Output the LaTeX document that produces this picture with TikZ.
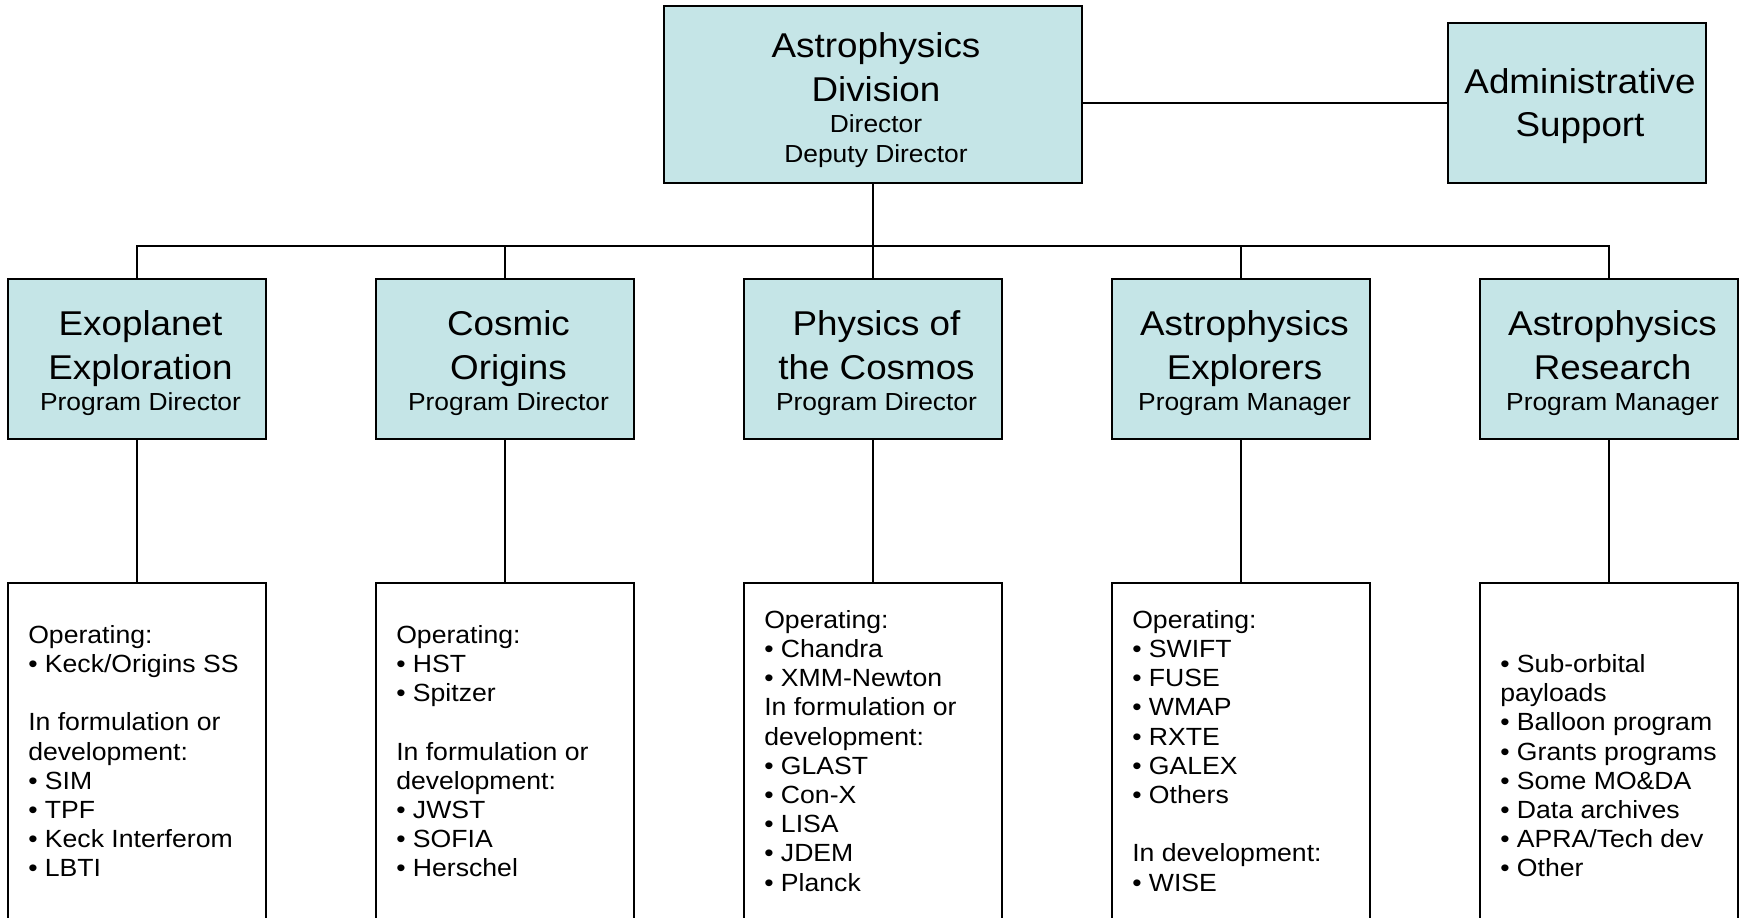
\documentclass[tikz,border=0pt]{standalone}
\usepackage{fontspec}
\setmainfont[FakeStretch=1.07]{Liberation Sans}
\newcommand\fnttitle{\fontsize{25.8pt}{32.5pt}\selectfont}
\newcommand\fntsub{\fontsize{18.5pt}{22pt}\selectfont}
\newcommand\fntbody{\fontsize{18.65pt}{21.9pt}\selectfont}
\definecolor{boxfill}{RGB}{197,229,231}
\tikzset{
  hbox/.style={draw=black, line width=2.2pt, fill=boxfill, inner sep=0pt, outer sep=0pt, rectangle},
  wbox/.style={draw=black, line width=2.2pt, fill=white, inner sep=0pt, outer sep=0pt, rectangle,
    minimum width=193.5pt, minimum height=253.5pt},
  midbox/.style={hbox, minimum width=193.5pt, minimum height=120pt},
  conn/.style={draw=black, line width=1.8pt, line join=miter},
  ttl/.style={font=\fnttitle, align=center, inner sep=0pt, anchor=north},
  body/.style={font=\fntbody, align=left, inner sep=0pt, anchor=north west},
}
\begin{document}
\begin{tikzpicture}[x=0.75pt, y=-0.75pt]
\clip (0,0) rectangle (1744,917);
\fill[white] (0,0) rectangle (1744,917);

% top level
\node[hbox, minimum width=313.5pt, minimum height=132.75pt] (top) at (873,94.5) {};
\node[hbox, minimum width=193.5pt, minimum height=120pt] (admin) at (1577,103) {};
\node[ttl] (toptxt) at (876,32.5) {Astrophysics\\Division\\[-8.7pt]\fntsub Director\\[-10.5pt]\fntsub Deputy Director};
\node[ttl] (admintxt) at (1580,68) {Administrative\\Support};

% program boxes
\node[midbox] (m1) at (137,359) {};
\node[midbox] (m2) at (505,359) {};
\node[midbox] (m3) at (873,359) {};
\node[midbox] (m4) at (1241,359) {};
\node[midbox] (m5) at (1609,359) {};
\node[ttl] (m1t) at (140.5,310.5) {Exoplanet\\Exploration\\[-8.7pt]\fntsub Program Director};
\node[ttl] (m2t) at (508.5,310.5) {Cosmic\\Origins\\[-8.7pt]\fntsub Program Director};
\node[ttl] (m3t) at (876.5,310.5) {Physics of\\the Cosmos\\[-8.7pt]\fntsub Program Director};
\node[ttl] (m4t) at (1244.5,310.5) {Astrophysics\\Explorers\\[-8.7pt]\fntsub Program Manager};
\node[ttl] (m5t) at (1612.5,310.5) {Astrophysics\\Research\\[-8.7pt]\fntsub Program Manager};

% detail boxes
\node[wbox] (b1) at (137,752) {};
\node[wbox] (b2) at (505,752) {};
\node[wbox] (b3) at (873,752) {};
\node[wbox] (b4) at (1241,752) {};
\node[wbox] (b5) at (1609,752) {};
\node[body] (b1t) at (28,625) {Operating:\\• Keck/Origins SS\\[21.9pt]In formulation or\\development:\\• SIM\\• TPF\\• Keck Interferom\\• LBTI};
\node[body] (b2t) at (396,625) {Operating:\\• HST\\• Spitzer\\[21.9pt]In formulation or\\development:\\• JWST\\• SOFIA\\• Herschel};
\node[body] (b3t) at (764,610) {Operating:\\• Chandra\\• XMM-Newton\\In formulation or\\development:\\• GLAST\\• Con-X\\• LISA\\• JDEM\\• Planck};
\node[body] (b4t) at (1132,610) {Operating:\\• SWIFT\\• FUSE\\• WMAP\\• RXTE\\• GALEX\\• Others\\[21.9pt]In development:\\• WISE};
\node[body] (b5t) at (1500,654.2) {• Sub-orbital\\payloads\\• Balloon program\\• Grants programs\\• Some MO\&DA\\• Data archives\\• APRA/Tech dev\\• Other};

% connectors
\coordinate (bus) at (873,246);
\draw[conn] (admin.west) -- (admin.west -| top.east);
\draw[conn] (top.south) -- (bus);
\draw[conn] (m1.north) |- (bus) -| (m5.north);
\draw[conn] (m2.north) -- (m2.north |- bus);
\draw[conn] (m3.north) -- (bus);
\draw[conn] (m4.north) -- (m4.north |- bus);
\draw[conn] (m1.south) -- (b1.north);
\draw[conn] (m2.south) -- (b2.north);
\draw[conn] (m3.south) -- (b3.north);
\draw[conn] (m4.south) -- (b4.north);
\draw[conn] (m5.south) -- (b5.north);
\end{tikzpicture}
\end{document}
